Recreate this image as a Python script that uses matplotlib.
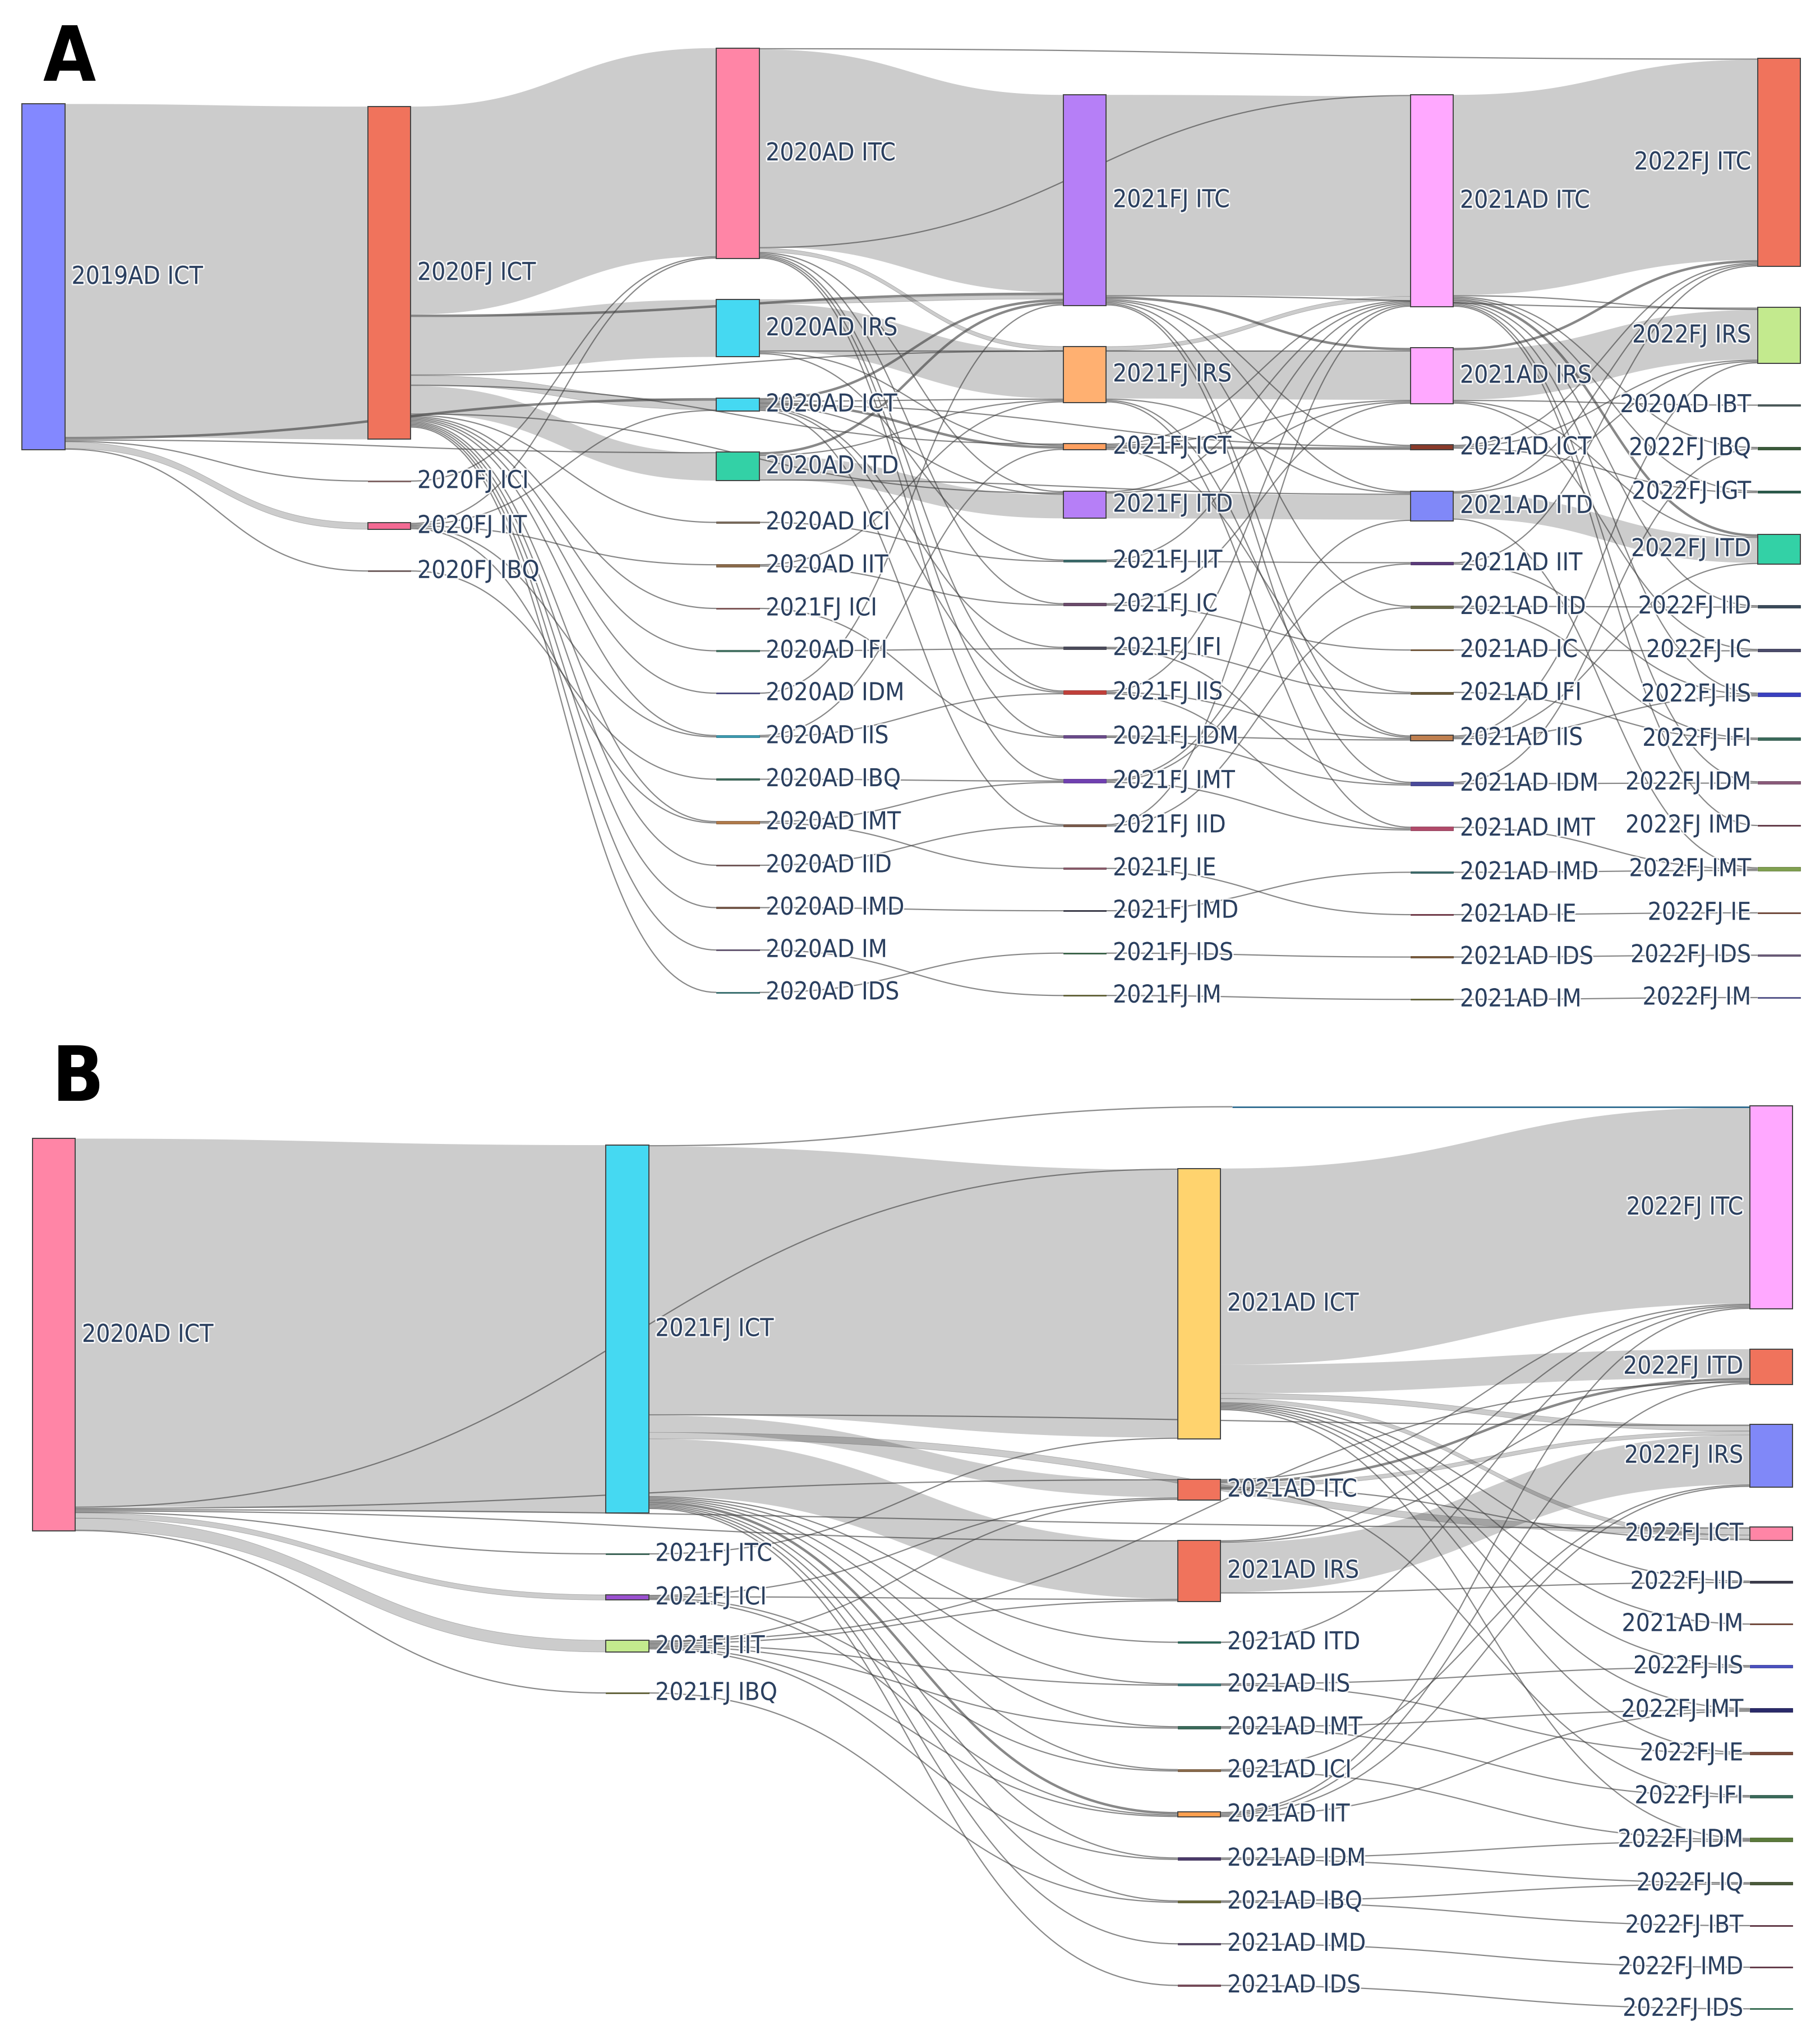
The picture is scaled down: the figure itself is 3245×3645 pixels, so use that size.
import os
import numpy as np
import matplotlib
matplotlib.use("Agg")
import matplotlib.pyplot as plt
from matplotlib.patches import Polygon, Rectangle
import matplotlib.patheffects as pe
import matplotlib.font_manager as fm
from matplotlib.font_manager import FontProperties
from matplotlib.colors import to_rgb

# ======================= Panel A : nodes (per column, top to bottom) =======================
A_col0 = ["2019AD ICT"]
A_col1 = ["2020FJ ICT", "2020FJ ICI", "2020FJ IIT", "2020FJ IBQ"]
A_col2 = ["2020AD ITC", "2020AD IRS", "2020AD ICT", "2020AD ITD", "2020AD ICI", "2020AD IIT",
          "2021FJ ICI", "2020AD IFI", "2020AD IDM", "2020AD IIS", "2020AD IBQ", "2020AD IMT",
          "2020AD IID", "2020AD IMD", "2020AD IM", "2020AD IDS"]
A_col3 = ["2021FJ ITC", "2021FJ IRS", "2021FJ ICT", "2021FJ ITD", "2021FJ IIT", "2021FJ IC",
          "2021FJ IFI", "2021FJ IIS", "2021FJ IDM", "2021FJ IMT", "2021FJ IID", "2021FJ IE",
          "2021FJ IMD", "2021FJ IDS", "2021FJ IM"]
A_col4 = ["2021AD ITC", "2021AD IRS", "2021AD ICT", "2021AD ITD", "2021AD IIT", "2021AD IID",
          "2021AD IC", "2021AD IFI", "2021AD IIS", "2021AD IDM", "2021AD IMT", "2021AD IMD",
          "2021AD IE", "2021AD IDS", "2021AD IM"]
A_col5 = ["2022FJ ITC", "2022FJ IRS", "2020AD IBT", "2022FJ IBQ", "2022FJ IGT", "2022FJ ITD",
          "2022FJ IID", "2022FJ IC", "2022FJ IIS", "2022FJ IFI", "2022FJ IDM", "2022FJ IMD",
          "2022FJ IMT", "2022FJ IE", "2022FJ IDS", "2022FJ IM"]

A_col0_colors = ["#8388ff"]
A_col1_colors = ["#f0735c", "#8a6a6a", "#f26a93", "#7a6666"]
A_col2_colors = ["#ff85a6", "#45d9f2", "#45d9f2", "#33d1a6", "#7a6a5a", "#8a6a4a",
                 "#8a5a5a", "#4a7a6a", "#4a4a8a", "#3a9ab0", "#3a6a5a", "#b07a4a",
                 "#7a5a5a", "#7a5a4a", "#6a5a7a", "#3a7a7a"]
A_col3_colors = ["#b67ff7", "#ffb071", "#ffa060", "#b67ff7", "#3a6a6a", "#6a4a6a",
                 "#4a4a5a", "#c0403a", "#6a4a8a", "#7040b0", "#7a5a4a", "#8a5a6a",
                 "#3a3a4a", "#3a6a4a", "#6a6a3a"]
A_col4_colors = ["#ffa8ff", "#ffa8ff", "#8a3a2a", "#8088f8", "#5a3a7a", "#6a6a4a",
                 "#7a5a3a", "#6a5a3a", "#c08050", "#4a4a9a", "#b04a6a", "#3a6a6a",
                 "#7a3a4a", "#7a5a3a", "#6a6a3a"]
A_col5_colors = ["#f0735c", "#c3ea8e", "#4a5a5a", "#3a5a3a", "#2a5a4a", "#33d1a6",
                 "#3a4a5a", "#4a4a6a", "#3a40c0", "#3a6a5a", "#8a5a7a", "#6a3a4a",
                 "#80a050", "#7a4a3a", "#6a5a7a", "#5a5a9a"]

# ======================= Panel A : links =======================
A_src_c0 = ["2019AD ICT", "2019AD ICT", "2019AD ICT", "2019AD ICT", "2019AD ICT", "2019AD ICT"]
A_tgt_c0 = ["2020FJ ICT", "2020FJ ICI", "2020FJ IIT", "2020FJ IBQ", "2020AD ICT", "2020AD ITD"]
A_val_c0 = [256, 1, 5, 1, 2, 1]

A_src_c1 = ["2020FJ ICT"] * 18 + ["2020FJ ICI"] + ["2020FJ IIT"] * 5 + ["2020FJ IBQ"]
A_tgt_c1 = ["2020AD ITC", "2020AD IRS", "2020AD ICT", "2020AD ITD", "2020AD ICI", "2021FJ ICI",
            "2020AD IFI", "2020AD IDM", "2020AD IIS", "2020AD IMT", "2020AD IID", "2020AD IMD",
            "2020AD IM", "2020AD IDS", "2021FJ ITC", "2021FJ IRS", "2021FJ ICT", "2021FJ ITD",
            "2020AD ITC",
            "2020AD ITC", "2020AD ICT", "2020AD IIT", "2020AD IIS", "2020AD IMT",
            "2020AD IBQ"]
A_val_c1 = [160, 44, 7, 21, 1, 1, 1, 1, 1, 1, 1, 1, 1, 1, 2, 1, 1, 1,
            1,
            1, 1, 1, 1, 1,
            1]

A_src_c2 = (["2020AD ITC"] * 9 + ["2020AD IRS"] * 5 + ["2020AD ICT"] * 8 + ["2020AD ITD"] * 4 +
            ["2020AD ICI", "2020AD IIT", "2020AD IIT", "2021FJ ICI", "2020AD IFI", "2020AD IDM",
             "2020AD IIS", "2020AD IIS", "2020AD IBQ", "2020AD IMT", "2020AD IMT", "2020AD IID",
             "2020AD IMD", "2020AD IM", "2020AD IDS"])
A_tgt_c2 = ["2022FJ ITC", "2021FJ ITC", "2021AD ITC", "2021FJ IRS", "2021FJ ITD", "2021FJ IC",
            "2021FJ IIS", "2021FJ IDM", "2021FJ IMT",
            "2021FJ ITC", "2021FJ IRS", "2021FJ ICT", "2021FJ IIT", "2021AD IRS",
            "2021FJ ITC", "2021FJ IRS", "2021FJ ICT", "2021FJ ITD", "2021FJ IFI", "2021FJ IIS",
            "2021FJ IID", "2021AD ICT",
            "2021FJ ITC", "2021FJ IRS", "2021FJ ITD", "2021AD ITD",
            "2021FJ IIT", "2021FJ IC", "2021FJ IRS", "2021FJ IDM", "2021FJ IFI", "2021FJ ITC",
            "2021FJ IIS", "2021FJ ICT", "2021FJ IMT", "2021FJ IMT", "2021FJ IE", "2021FJ IID",
            "2021FJ IMD", "2021FJ IM", "2021FJ IDS"]
A_val_c2 = [1, 152, 1, 3, 1, 1, 1, 1, 1,
            3, 36, 1, 1, 1,
            2, 1, 2, 1, 1, 1, 1, 1,
            2, 1, 18, 1,
            1, 1, 1, 1, 1, 1, 1, 1, 1, 1, 1, 1, 1, 1, 1]

A_src_c3 = (["2021FJ ITC"] * 8 + ["2021FJ IRS"] * 5 + ["2021FJ ICT"] * 4 + ["2021FJ ITD"] * 3 +
            ["2021FJ IIT", "2021FJ IIT", "2021FJ IC", "2021FJ IC", "2021FJ IFI", "2021FJ IFI",
             "2021FJ IIS", "2021FJ IIS", "2021FJ IIS", "2021FJ IDM", "2021FJ IDM", "2021FJ IMT",
             "2021FJ IMT", "2021FJ IMT", "2021FJ IID", "2021FJ IID", "2021FJ IE", "2021FJ IMD",
             "2021FJ IDS", "2021FJ IM"])
A_tgt_c3 = ["2021AD ITC", "2021AD IRS", "2021AD ICT", "2021AD ITD", "2021AD IID", "2021AD IIS",
            "2021AD IDM", "2022FJ IRS",
            "2021AD ITC", "2021AD IRS", "2021AD ITD", "2021AD IMT", "2021AD IIS",
            "2021AD ITC", "2021AD IRS", "2021AD ICT", "2021AD IFI",
            "2021AD ITC", "2021AD IRS", "2021AD ITD",
            "2021AD IIT", "2021AD ITC", "2021AD IC", "2021AD IRS", "2021AD IFI", "2021AD IDM",
            "2021AD IIS", "2021AD IMT", "2021AD ITC", "2021AD IDM", "2021AD IIS", "2021AD IMT",
            "2021AD IIT", "2021AD ITD", "2021AD IID", "2021AD ITC", "2021AD IE", "2021AD IMD",
            "2021AD IDS", "2021AD IM"]
A_val_c3 = [154, 2, 1, 1, 1, 1, 1, 1,
            3, 37, 1, 1, 1,
            1, 1, 2, 1,
            1, 1, 19,
            1, 1, 1, 1, 1, 1, 1, 1, 1, 1, 1, 1, 1, 1, 1, 1, 1, 1, 1, 1]

A_src_c4 = (["2021AD ITC"] * 9 + ["2021AD IRS"] * 5 + ["2021AD ICT"] * 3 + ["2021AD ITD"] * 4 +
            ["2021AD IIT", "2021AD IIT", "2021AD IID", "2021AD IID", "2021AD IC", "2021AD IFI",
             "2021AD IIS", "2021AD IIS", "2021AD IIS", "2021AD IDM", "2021AD IDM", "2021AD IMT",
             "2021AD IMD", "2021AD IE", "2021AD IDS", "2021AD IM"])
A_tgt_c4 = ["2022FJ ITC", "2022FJ IRS", "2022FJ ITD", "2022FJ IBQ", "2022FJ IGT", "2022FJ IID",
            "2022FJ IIS", "2022FJ IMD", "2022FJ IDM",
            "2022FJ ITC", "2022FJ IRS", "2020AD IBT", "2022FJ ITD", "2022FJ IC",
            "2022FJ ITC", "2022FJ IRS", "2022FJ IGT",
            "2022FJ ITD", "2022FJ ITC", "2022FJ IRS", "2022FJ IMT",
            "2022FJ ITC", "2022FJ IIS", "2022FJ IID", "2022FJ IFI", "2022FJ IC", "2022FJ IFI",
            "2022FJ IRS", "2022FJ ITD", "2022FJ IIS", "2022FJ IDM", "2022FJ IBQ", "2022FJ IMT",
            "2022FJ IMT", "2022FJ IE", "2022FJ IDS", "2022FJ IM"]
A_val_c4 = [154, 1, 2, 1, 1, 1, 1, 1, 1,
            2, 38, 1, 1, 1,
            1, 1, 1,
            19, 1, 1, 1,
            1, 1, 1, 1, 1, 1, 1, 1, 1, 1, 1, 1, 1, 1, 1, 1]

# ======================= Panel B : nodes =======================
B_col0 = ["2020AD ICT"]
B_col1 = ["2021FJ ICT", "2021FJ ITC", "2021FJ ICI", "2021FJ IIT", "2021FJ IBQ"]
B_col2 = ["2021AD ICT", "2021AD ITC", "2021AD IRS", "2021AD ITD", "2021AD IIS", "2021AD IMT",
          "2021AD ICI", "2021AD IIT", "2021AD IDM", "2021AD IBQ", "2021AD IMD", "2021AD IDS"]
B_col3 = ["2022FJ ITC", "2022FJ ITD", "2022FJ IRS", "2022FJ ICT", "2022FJ IID", "2021AD IM",
          "2022FJ IIS", "2022FJ IMT", "2022FJ IE", "2022FJ IFI", "2022FJ IDM", "2022FJ IQ",
          "2022FJ IBT", "2022FJ IMD", "2022FJ IDS"]

B_col0_colors = ["#ff85a6"]
B_col1_colors = ["#45d9f2", "#3a6a5a", "#9a50d0", "#c3ea8e", "#6a6a3a"]
B_col2_colors = ["#ffd36e", "#f0735c", "#f0735c", "#2a6a5a", "#3a7a7a", "#3a6a5a",
                 "#8a6a4a", "#ffa050", "#4a3a6a", "#6a6a3a", "#5a4a6a", "#7a4a5a"]
B_col3_colors = ["#ffa8ff", "#f0735c", "#8088f8", "#ff85a6", "#3a3a4a", "#7a4a3a",
                 "#4a50c0", "#2a2a6a", "#7a4a3a", "#3a6a5a", "#5a7a3a", "#4a5a3a",
                 "#6a3a4a", "#6a3a4a", "#3a7a5a"]

# ======================= Panel B : links =======================
B_src_c0 = ["2020AD ICT"] * 9
B_tgt_c0 = ["2021FJ ICT", "2021AD ICT", "2021FJ ITC", "2021FJ ICI", "2021FJ IIT", "2021FJ IBQ",
            "2022FJ ICT", "2021AD ITC", "2021AD IRS"]
B_val_c0 = [283, 1, 1, 4, 9, 1, 1, 1, 1]

B_src_c1 = ["2021FJ ICT"] * 15 + ["2021FJ ITC"] + ["2021FJ ICI"] * 4 + ["2021FJ IIT"] * 7 + ["2021FJ IBQ"]
B_tgt_c1 = ["2022FJ ITC", "2021AD ICT", "2021AD ITC", "2021AD IRS", "2022FJ IRS", "2022FJ ICT",
            "2021AD ITD", "2021AD IIS", "2021AD IMT", "2021AD ICI", "2021AD IIT", "2021AD IDM",
            "2021AD IBQ", "2021AD IMD", "2021AD IDS",
            "2021AD ICT",
            "2021AD ITC", "2021AD IRS", "2021AD ICI", "2021AD IIT",
            "2022FJ ITD", "2021AD ITC", "2021AD IRS", "2021AD IIS", "2021AD IMT", "2021AD IIT",
            "2021AD IDM",
            "2021AD IBQ"]
B_val_c1 = [1, 206, 13, 44, 1, 5, 1, 1, 1, 1, 2, 1, 1, 1, 1,
            1,
            1, 1, 1, 1,
            1, 1, 1, 1, 1, 1, 1,
            1]

B_src_c2 = (["2021AD ICT"] * 10 + ["2021AD ITC"] * 5 + ["2021AD IRS"] * 4 +
            ["2021AD ITD", "2021AD IIS", "2021AD IIS", "2021AD IMT", "2021AD IMT", "2021AD ICI",
             "2021AD ICI", "2021AD IIT", "2021AD IIT", "2021AD IIT", "2021AD IIT", "2021AD IDM",
             "2021AD IDM", "2021AD IBQ", "2021AD IBQ", "2021AD IMD", "2021AD IDS"])
B_tgt_c2 = ["2022FJ ITC", "2022FJ ITD", "2022FJ IRS", "2022FJ ICT", "2022FJ IID", "2021AD IM",
            "2022FJ IIS", "2022FJ IMT", "2022FJ IE", "2022FJ IDM",
            "2022FJ ITC", "2022FJ ITD", "2022FJ IRS", "2022FJ ICT", "2022FJ IFI",
            "2022FJ ITC", "2022FJ ITD", "2022FJ IRS", "2022FJ IID",
            "2022FJ ITC", "2022FJ IIS", "2022FJ IE", "2022FJ IMT", "2022FJ IFI", "2022FJ IRS",
            "2022FJ IDM", "2022FJ ITC", "2022FJ ITD", "2022FJ IRS", "2022FJ IMT", "2022FJ IDM",
            "2022FJ IQ", "2022FJ IQ", "2022FJ IBT", "2022FJ IMD", "2022FJ IDS"]
B_val_c2 = [151, 22, 4, 3, 1, 1, 1, 1, 1, 1,
            1, 2, 3, 1, 1,
            1, 1, 38, 1,
            1, 1, 1, 1, 1, 1, 1, 1, 1, 1, 1, 1, 1, 1, 1, 1, 1]

# ======================= layout / style constants =======================
FIG_W, FIG_H = 3245, 3645
W_DISP = 1400.0
H_DISP = FIG_H * W_DISP / FIG_W
PX = FIG_W / W_DISP                      # pixels per display unit
PT = 72.0 / 100.0 * PX                   # points per display unit
NODE_W = 33
A_X = [17, 283, 551, 818, 1085, 1352]
A_TOP = [80, 82, 37, 73, 73, 45]
A_PAD = 31.6
B_X = [25, 466, 906, 1346]
B_TOP = [876, 881, 899, 851]
B_PAD = 31.0
TEXT_COLOR = "#2a3f5f"
LABEL_REF_TEXT = "2019AD ICT"
LABEL_REF_WIDTH = 101.0                  # display units spanned by that label
LETTER_REF_HEIGHT = 42.0                 # display units, cap height of panel letters
THIN_LINK = (0.25, 0.25, 0.25)

# fonts
ttf = {os.path.basename(f.fname): f.fname for f in fm.fontManager.ttflist}


def pick(cands):
    for c in cands:
        if c in ttf:
            return ttf[c]
    return None


reg_path = pick(["LiberationSansNarrow-Regular.ttf", "DejaVuSansCondensed.ttf"])
bold_path = pick(["LiberationSansNarrow-Bold.ttf", "DejaVuSansCondensed-Bold.ttf"])


def make_fp(path, size, bold=False):
    if path:
        return FontProperties(fname=path, size=size)
    return FontProperties(family="DejaVu Sans", weight="bold" if bold else "normal", size=size)


def bez(xa, ya, xb, yb, n=90):
    t = np.linspace(0, 1, n)
    xm = 0.5 * (xa + xb)
    x = (1 - t) ** 3 * xa + 3 * (1 - t) ** 2 * t * xm + 3 * (1 - t) * t ** 2 * xm + t ** 3 * xb
    y = (1 - t) ** 3 * ya + 3 * (1 - t) ** 2 * t * ya + 3 * (1 - t) * t ** 2 * yb + t ** 3 * yb
    return x, y


def darker(c, f=0.75):
    r, g, b = to_rgb(c)
    return (r * f, g * f, b * f)


def sankey(ax, columns, colors, src, tgt, val, xs, tops, pad, label_fp, via=None, via_color="#1b5e86"):
    via = via or {}
    col_of = {n: ci for ci, col in enumerate(columns) for n in col}
    color_of = {n: c for col, cc in zip(columns, colors) for n, c in zip(col, cc)}
    names = [n for col in columns for n in col]
    inflow = {n: 0 for n in names}
    outflow = {n: 0 for n in names}
    for s, t, v in zip(src, tgt, val):
        outflow[s] += v
        inflow[t] += v
    size = {n: max(inflow[n], outflow[n], 1) for n in names}
    y0 = {}
    for ci, col in enumerate(columns):
        y = tops[ci]
        for n in col:
            y0[n] = y
            y += size[n] + pad
    idx = list(range(len(src)))
    out_off, in_off = {}, {}
    for n in names:
        outs = sorted([i for i in idx if src[i] == n], key=lambda i: (y0[tgt[i]], col_of[tgt[i]]))
        y = y0[n]
        for i in outs:
            out_off[i] = y
            y += val[i]
        ins = sorted([i for i in idx if tgt[i] == n], key=lambda i: (y0[src[i]], col_of[src[i]]))
        y = y0[n]
        for i in ins:
            in_off[i] = y
            y += val[i]

    # links
    for i in idx:
        xa = xs[col_of[src[i]]] + NODE_W
        xb = xs[col_of[tgt[i]]]
        ya, yb, v = out_off[i], in_off[i], val[i]
        key = (src[i], tgt[i])
        if key in via:
            xv = xs[via[key]] + NODE_W + 9
            cx, cy = bez(xa, ya + v / 2, xv, yb + v / 2)
            ax.plot(cx, cy, color=THIN_LINK, alpha=0.6, lw=v * PT, solid_capstyle="butt", zorder=2)
            ax.plot([xv, xb], [yb + v / 2, yb + v / 2], color=via_color, lw=1.1 * PT,
                    solid_capstyle="butt", zorder=2)
            continue
        if v <= 2:
            cx, cy = bez(xa, ya + v / 2, xb, yb + v / 2)
            ax.plot(cx, cy, color=THIN_LINK, alpha=0.62, lw=v * PT * 0.95,
                    solid_capstyle="butt", zorder=2)
            continue
        tx, ty = bez(xa, ya, xb, yb)
        bx, by = bez(xa, ya + v, xb, yb + v)
        poly = np.column_stack([np.concatenate([tx, bx[::-1]]), np.concatenate([ty, by[::-1]])])
        ax.add_patch(Polygon(poly, closed=True, facecolor=(0, 0, 0, 0.2), edgecolor="none", zorder=1))
        if v <= 9:
            ax.plot(tx, ty, color=THIN_LINK, alpha=0.35, lw=0.35 * PT, zorder=2)
            ax.plot(bx, by, color=THIN_LINK, alpha=0.35, lw=0.35 * PT, zorder=2)

    # nodes and labels
    last = len(columns) - 1
    for n in names:
        ci = col_of[n]
        x = xs[ci]
        h = size[n]
        c = color_of[n]
        if h >= 4:
            ax.add_patch(Rectangle((x, y0[n]), NODE_W, h, facecolor=c, edgecolor="#444444",
                                   lw=0.85 * PT, zorder=3))
        else:
            ax.add_patch(Rectangle((x, y0[n]), NODE_W, h, facecolor=c, edgecolor=darker(c),
                                   lw=0.35 * PT, zorder=3))
        yc = y0[n] + h / 2
        if ci == last:
            tx, ha = x - 5, "right"
        else:
            tx, ha = x + NODE_W + 5, "left"
        ax.text(tx, yc, n, ha=ha, va="center", color=TEXT_COLOR, fontproperties=label_fp,
                zorder=5, path_effects=[pe.withStroke(linewidth=4, foreground="white", alpha=0.85)])


fig = plt.figure(figsize=(FIG_W / 100, FIG_H / 100), dpi=100)
fig.patch.set_facecolor("white")
ax = fig.add_axes([0, 0, 1, 1])
ax.set_xlim(0, W_DISP)
ax.set_ylim(H_DISP, 0)
ax.axis("off")

# calibrate font sizes so the labels have the reference's width / letter height
renderer = fig.canvas.get_renderer()
probe = ax.text(0, 0, LABEL_REF_TEXT, fontproperties=make_fp(reg_path, 10))
w10 = probe.get_window_extent(renderer).width
probe.remove()
label_size = 10.0 * LABEL_REF_WIDTH * PX / w10
label_fp = make_fp(reg_path, label_size)

letter_size = LETTER_REF_HEIGHT * PX / (0.72 * 50 * 100 / 72) * 50
letter_fp = make_fp(bold_path, letter_size, bold=True)

A_columns = [A_col0, A_col1, A_col2, A_col3, A_col4, A_col5]
A_colors = [A_col0_colors, A_col1_colors, A_col2_colors, A_col3_colors, A_col4_colors, A_col5_colors]
A_src = A_src_c0 + A_src_c1 + A_src_c2 + A_src_c3 + A_src_c4
A_tgt = A_tgt_c0 + A_tgt_c1 + A_tgt_c2 + A_tgt_c3 + A_tgt_c4
A_val = A_val_c0 + A_val_c1 + A_val_c2 + A_val_c3 + A_val_c4
assert len(A_src) == len(A_tgt) == len(A_val), (len(A_src), len(A_tgt), len(A_val))

B_columns = [B_col0, B_col1, B_col2, B_col3]
B_colors = [B_col0_colors, B_col1_colors, B_col2_colors, B_col3_colors]
B_src = B_src_c0 + B_src_c1 + B_src_c2
B_tgt = B_tgt_c0 + B_tgt_c1 + B_tgt_c2
B_val = B_val_c0 + B_val_c1 + B_val_c2
assert len(B_src) == len(B_tgt) == len(B_val), (len(B_src), len(B_tgt), len(B_val))

sankey(ax, A_columns, A_colors, A_src, A_tgt, A_val, A_X, A_TOP, A_PAD, label_fp)
sankey(ax, B_columns, B_colors, B_src, B_tgt, B_val, B_X, B_TOP, B_PAD, label_fp,
       via={("2021FJ ICT", "2022FJ ITC"): 2})

ax.text(33, 62, "A", ha="left", va="baseline", color="black", fontproperties=letter_fp, zorder=6)
ax.text(40, 847, "B", ha="left", va="baseline", color="black", fontproperties=letter_fp, zorder=6)

fig.savefig("out.png", dpi=100, facecolor="white")
